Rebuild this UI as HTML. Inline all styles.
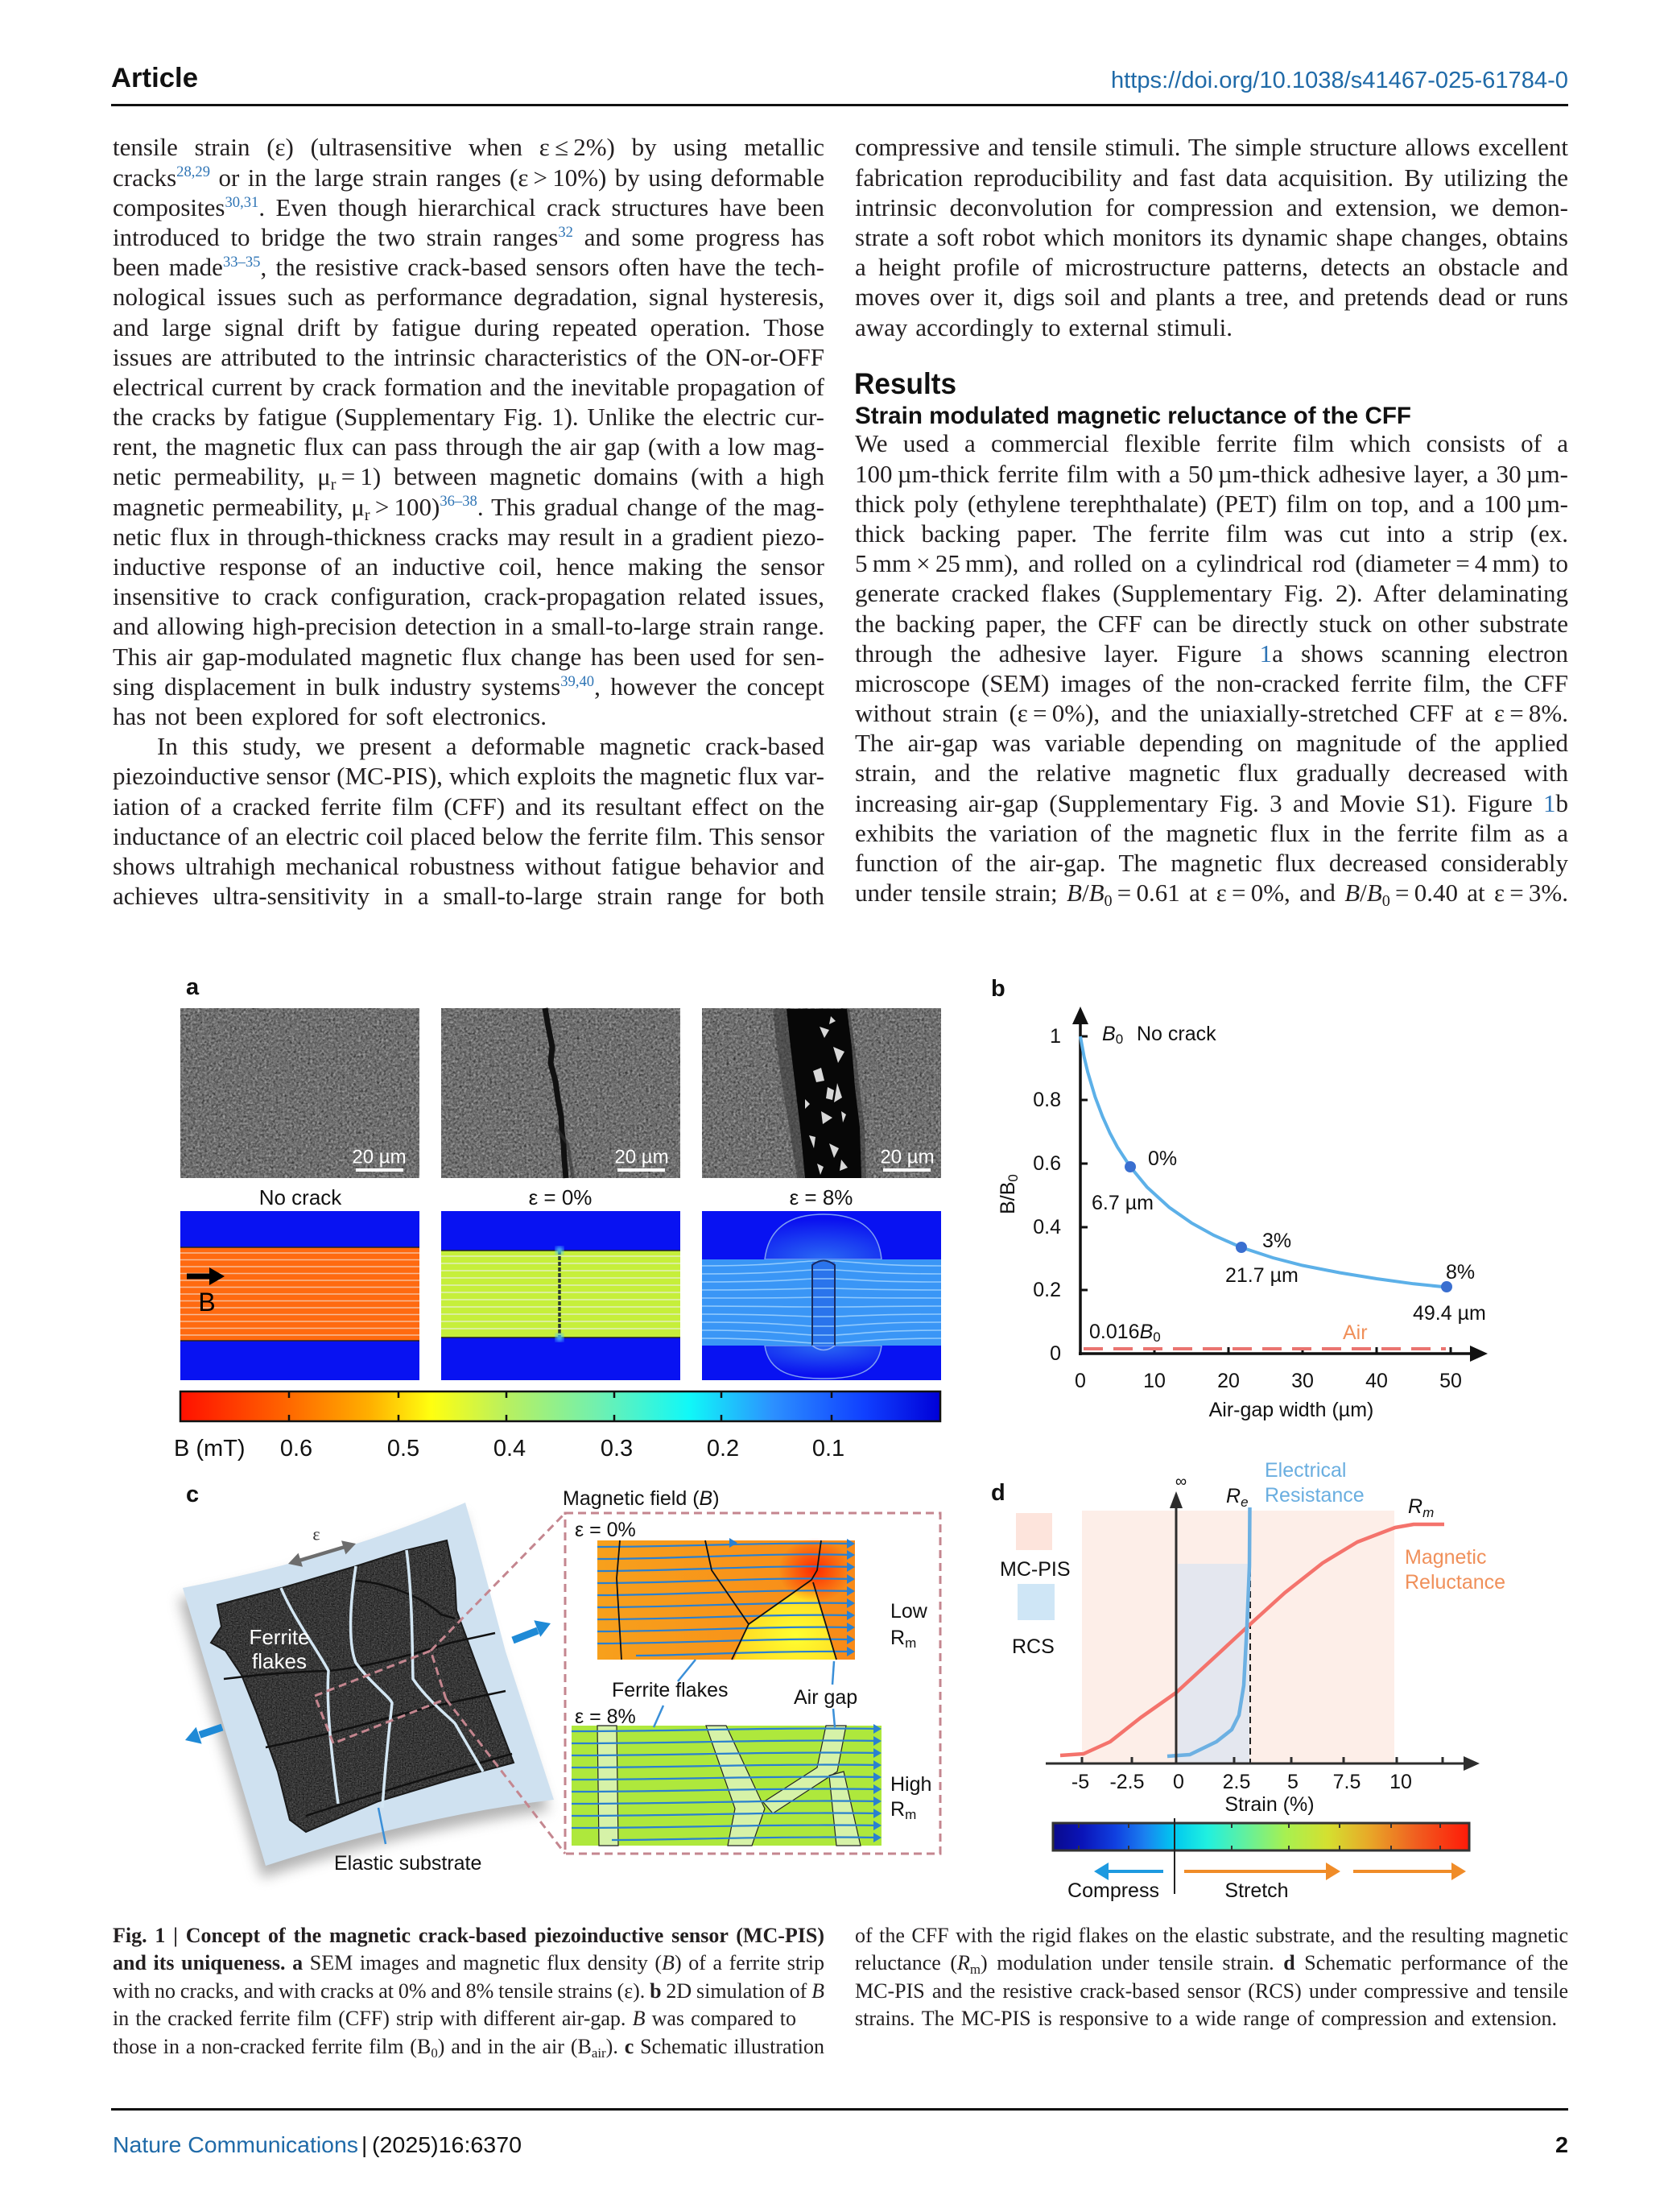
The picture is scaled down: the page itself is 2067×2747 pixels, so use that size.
<!DOCTYPE html>
<html><head><meta charset="utf-8">
<style>
html,body{margin:0;padding:0;background:#fff}
#p{position:relative;width:2067px;height:2747px;overflow:hidden;background:#fff;font-family:"Liberation Serif",serif;color:#231f20}
.col{position:absolute}
.l{height:37.2px;line-height:37.2px;white-space:nowrap;font-size:31px}
.c{height:34.6px;line-height:34.6px;white-space:nowrap;font-size:26px}
.t{white-space:nowrap}
sup{font-size:60%;line-height:0;vertical-align:0;position:relative;top:-0.6em;color:#2e74b5}
sub{font-size:65%;line-height:0;vertical-align:0;position:relative;top:0.3em}
.bl{color:#2e74b5}
.fw{position:absolute;white-space:nowrap;font-family:"Liberation Sans",sans-serif}
.rule{position:absolute;background:#111}
svg text{font-family:"Liberation Sans",sans-serif}
</style></head>
<body><div id="p">

<!-- header -->
<div class="fw" style="left:138px;top:77px;width:108px;height:40px;line-height:40px;font-size:34px;font-weight:bold;color:#111"><span class="t">Article</span></div>
<div class="fw" style="left:1380px;top:82px;width:568px;height:36px;line-height:36px;font-size:29px;color:#1f6aa8"><span class="t">https://doi.org/10.1038/s41467-025-61784-0</span></div>
<div class="rule" style="left:138px;top:129px;width:1810px;height:3px"></div>

<!-- left column -->
<div class="col" style="left:140px;top:164.4px;width:884px">
<div class="l j"><span class="t">tensile strain (ε) (ultrasensitive when ε&#8201;≤&#8201;2%) by using metallic</span></div>
<div class="l j"><span class="t">cracks<sup>28,29</sup> or in the large strain ranges (ε&#8201;&gt;&#8201;10%) by using deformable</span></div>
<div class="l j"><span class="t">composites<sup>30,31</sup>. Even though hierarchical crack structures have been</span></div>
<div class="l j"><span class="t">introduced to bridge the two strain ranges<sup>32</sup> and some progress has</span></div>
<div class="l j"><span class="t">been made<sup>33–35</sup>, the resistive crack-based sensors often have the tech-</span></div>
<div class="l j"><span class="t">nological issues such as performance degradation, signal hysteresis,</span></div>
<div class="l j"><span class="t">and large signal drift by fatigue during repeated operation. Those</span></div>
<div class="l j"><span class="t">issues are attributed to the intrinsic characteristics of the ON-or-OFF</span></div>
<div class="l j"><span class="t">electrical current by crack formation and the inevitable propagation of</span></div>
<div class="l j"><span class="t">the cracks by fatigue (Supplementary Fig. 1). Unlike the electric cur-</span></div>
<div class="l j"><span class="t">rent, the magnetic flux can pass through the air gap (with a low mag-</span></div>
<div class="l j"><span class="t">netic permeability, μ<sub>r</sub>&#8201;=&#8201;1) between magnetic domains (with a high</span></div>
<div class="l j"><span class="t">magnetic permeability, μ<sub>r</sub>&#8201;&gt;&#8201;100)<sup>36–38</sup>. This gradual change of the mag-</span></div>
<div class="l j"><span class="t">netic flux in through-thickness cracks may result in a gradient piezo-</span></div>
<div class="l j"><span class="t">inductive response of an inductive coil, hence making the sensor</span></div>
<div class="l j"><span class="t">insensitive to crack configuration, crack-propagation related issues,</span></div>
<div class="l j"><span class="t">and allowing high-precision detection in a small-to-large strain range.</span></div>
<div class="l j"><span class="t">This air gap-modulated magnetic flux change has been used for sen-</span></div>
<div class="l j"><span class="t">sing displacement in bulk industry systems<sup>39,40</sup>, however the concept</span></div>
<div class="l j" style="width:539px"><span class="t">has not been explored for soft electronics.</span></div>
<div class="l j" style="padding-left:55px;width:829px"><span class="t">In this study, we present a deformable magnetic crack-based</span></div>
<div class="l j"><span class="t">piezoinductive sensor (MC-PIS), which exploits the magnetic flux var-</span></div>
<div class="l j"><span class="t">iation of a cracked ferrite film (CFF) and its resultant effect on the</span></div>
<div class="l j"><span class="t">inductance of an electric coil placed below the ferrite film. This sensor</span></div>
<div class="l j"><span class="t">shows ultrahigh mechanical robustness without fatigue behavior and</span></div>
<div class="l j"><span class="t">achieves ultra-sensitivity in a small-to-large strain range for both</span></div>
</div>

<!-- right column top -->
<div class="col" style="left:1062px;top:164.4px;width:886px">
<div class="l j"><span class="t">compressive and tensile stimuli. The simple structure allows excellent</span></div>
<div class="l j"><span class="t">fabrication reproducibility and fast data acquisition. By utilizing the</span></div>
<div class="l j"><span class="t">intrinsic deconvolution for compression and extension, we demon-</span></div>
<div class="l j"><span class="t">strate a soft robot which monitors its dynamic shape changes, obtains</span></div>
<div class="l j"><span class="t">a height profile of microstructure patterns, detects an obstacle and</span></div>
<div class="l j"><span class="t">moves over it, digs soil and plants a tree, and pretends dead or runs</span></div>
<div class="l j" style="width:469px"><span class="t">away accordingly to external stimuli.</span></div>
</div>

<div class="fw" style="left:1061px;top:456px;width:127px;height:42px;line-height:42px;font-size:37px;font-weight:bold;color:#111"><span class="t">Results</span></div>
<div class="fw" style="left:1062px;top:499px;width:691px;height:36px;line-height:36px;font-size:30px;font-weight:bold;color:#111"><span class="t">Strain modulated magnetic reluctance of the CFF</span></div>

<div class="col" style="left:1062px;top:532.4px;width:886px">
<div class="l j"><span class="t">We used a commercial flexible ferrite film which consists of a</span></div>
<div class="l j"><span class="t">100&#8201;µm-thick ferrite film with a 50&#8201;µm-thick adhesive layer, a 30&#8201;µm-</span></div>
<div class="l j"><span class="t">thick poly (ethylene terephthalate) (PET) film on top, and a 100&#8201;µm-</span></div>
<div class="l j"><span class="t">thick backing paper. The ferrite film was cut into a strip (ex.</span></div>
<div class="l j"><span class="t">5&#8201;mm&#8201;×&#8201;25&#8201;mm), and rolled on a cylindrical rod (diameter&#8201;=&#8201;4&#8201;mm) to</span></div>
<div class="l j"><span class="t">generate cracked flakes (Supplementary Fig. 2). After delaminating</span></div>
<div class="l j"><span class="t">the backing paper, the CFF can be directly stuck on other substrate</span></div>
<div class="l j"><span class="t">through the adhesive layer. Figure <span class="bl">1</span>a shows scanning electron</span></div>
<div class="l j"><span class="t">microscope (SEM) images of the non-cracked ferrite film, the CFF</span></div>
<div class="l j"><span class="t">without strain (ε&#8201;=&#8201;0%), and the uniaxially-stretched CFF at ε&#8201;=&#8201;8%.</span></div>
<div class="l j"><span class="t">The air-gap was variable depending on magnitude of the applied</span></div>
<div class="l j"><span class="t">strain, and the relative magnetic flux gradually decreased with</span></div>
<div class="l j"><span class="t">increasing air-gap (Supplementary Fig. 3 and Movie S1). Figure <span class="bl">1</span>b</span></div>
<div class="l j"><span class="t">exhibits the variation of the magnetic flux in the ferrite film as a</span></div>
<div class="l j"><span class="t">function of the air-gap. The magnetic flux decreased considerably</span></div>
<div class="l j"><span class="t">under tensile strain; <i>B</i>/<i>B</i><sub>0</sub>&#8201;=&#8201;0.61 at ε&#8201;=&#8201;0%, and <i>B</i>/<i>B</i><sub>0</sub>&#8201;=&#8201;0.40 at ε&#8201;=&#8201;3%.</span></div>
</div>

<!-- FIGURE -->
<svg width="2067" height="2747" viewBox="0 0 2067 2747" style="position:absolute;left:0;top:0">
<defs>
 <filter id="sem" x="0" y="0" width="100%" height="100%" color-interpolation-filters="sRGB">
  <feTurbulence type="fractalNoise" baseFrequency="0.35" numOctaves="3" seed="7"/>
  <feColorMatrix type="matrix" values="0.33 0.33 0.33 0 0 0.33 0.33 0.33 0 0 0.33 0.33 0.33 0 0 0 0 0 0 1"/>
  <feComponentTransfer><feFuncR type="linear" slope="1.0" intercept="-0.06"/><feFuncG type="linear" slope="1.0" intercept="-0.06"/><feFuncB type="linear" slope="1.0" intercept="-0.06"/></feComponentTransfer>
 </filter>
 <filter id="fer" x="0" y="0" width="100%" height="100%" color-interpolation-filters="sRGB">
  <feTurbulence type="fractalNoise" baseFrequency="0.6" numOctaves="2" seed="3"/>
  <feColorMatrix type="matrix" values="0.33 0.33 0.33 0 0 0.33 0.33 0.33 0 0 0.33 0.33 0.33 0 0 0 0 0 0 1"/>
  <feComponentTransfer><feFuncR type="linear" slope="0.7" intercept="-0.13"/><feFuncG type="linear" slope="0.7" intercept="-0.13"/><feFuncB type="linear" slope="0.7" intercept="-0.13"/></feComponentTransfer>
 </filter>
 <filter id="blur8"><feGaussianBlur stdDeviation="8"/></filter>
 <filter id="blur3"><feGaussianBlur stdDeviation="3"/></filter>
 <linearGradient id="cbA" x1="0" x2="1" y1="0" y2="0">
  <stop offset="0" stop-color="#ff1000"/><stop offset="0.14" stop-color="#ff6600"/><stop offset="0.25" stop-color="#ffb000"/>
  <stop offset="0.33" stop-color="#ffff10"/><stop offset="0.43" stop-color="#b8f060"/><stop offset="0.55" stop-color="#70f0b0"/>
  <stop offset="0.67" stop-color="#10f8f8"/><stop offset="0.78" stop-color="#2c90ff"/><stop offset="0.9" stop-color="#1040ff"/><stop offset="1" stop-color="#0000d8"/>
 </linearGradient>
 <linearGradient id="cbD" x1="0" x2="1" y1="0" y2="0">
  <stop offset="0" stop-color="#0a0a8c"/><stop offset="0.07" stop-color="#0a14b8"/><stop offset="0.15" stop-color="#1040e0"/>
  <stop offset="0.22" stop-color="#1a80f0"/><stop offset="0.29" stop-color="#00c8f0"/><stop offset="0.37" stop-color="#20f0e0"/>
  <stop offset="0.46" stop-color="#60f0a0"/><stop offset="0.56" stop-color="#a8f050"/><stop offset="0.66" stop-color="#d4e030"/>
  <stop offset="0.76" stop-color="#e8a828"/><stop offset="0.87" stop-color="#f06020"/><stop offset="1" stop-color="#ff1a08"/>
 </linearGradient>
 <radialGradient id="dome" cx="0.5" cy="1" r="0.9">
  <stop offset="0" stop-color="#2a6af4"/><stop offset="1" stop-color="#0a10f0"/>
 </radialGradient>
 <radialGradient id="dome2" cx="0.5" cy="0" r="0.9">
  <stop offset="0" stop-color="#2a6af4"/><stop offset="1" stop-color="#0a10f0"/>
 </radialGradient>
 <radialGradient id="hot" cx="0.5" cy="0.5" r="0.5">
  <stop offset="0" stop-color="#ff2a00"/><stop offset="1" stop-color="#ff2a00" stop-opacity="0"/>
 </radialGradient>
 <radialGradient id="yel" cx="0.6" cy="0.7" r="0.7">
  <stop offset="0" stop-color="#ffff30"/><stop offset="1" stop-color="#ffd020"/>
 </radialGradient>
 <linearGradient id="org" x1="0" x2="1" y1="0" y2="0">
  <stop offset="0" stop-color="#f7a01c"/><stop offset="1" stop-color="#f88a18"/>
 </linearGradient>
 <clipPath id="ferClip"><path d="M270,1993 L350,1972 L442,1945 L505,1925 L555,1913 L565,1960 L567,2000 L598,2084 L638,2189 L560,2210 L470,2237 L380,2275 L360,2260 L345,2200 L320,2130 L300,2080 L280,2050 L262,2040 L275,2020 Z"/></clipPath>
</defs>

<!-- ===== Panel a ===== -->
<text x="231" y="1226" font-size="29" font-weight="bold" dominant-baseline="central" fill="#111">a</text>
<rect x="224" y="1252" width="297" height="211" filter="url(#sem)"/>
<rect x="548" y="1252" width="297" height="211" filter="url(#sem)"/>
<rect x="872" y="1252" width="297" height="211" filter="url(#sem)"/>
<!-- crack 2 -->
<path d="M677,1252 L681,1275 L686,1300 L684,1320 L690,1343 L693,1365 L697,1386 L698,1405 L700,1421 L701,1440 L703,1463" stroke="#111" stroke-width="7" fill="none"/>
<path d="M690,1400 L705,1420 L712,1463" stroke="#333" stroke-width="4" fill="none" opacity="0.6"/>
<!-- crack 3 -->
<path d="M960,1253 L1055,1253 L1062,1300 L1068,1350 L1074,1400 L1076,1463 L990,1463 L982,1410 L972,1350 L965,1300 Z" fill="#3a3a3a" opacity="0.6"/>
<path d="M977,1253 L1052,1253 L1058,1300 L1062,1350 L1068,1400 L1070,1463 L1000,1463 L995,1410 L988,1350 L982,1300 Z" fill="#070707"/>
<path d="M1018,1275 l12,4 l-6,10z M1035,1300 l14,6 l-8,14z M1010,1330 l10,-4 l4,16 l-10,2z M1040,1345 l6,18 l-10,6z M1020,1380 l14,8 l-12,8z M1005,1410 l8,2 l-2,14z M1030,1420 l12,6 l-6,12z M1045,1440 l8,10 l-10,4z M1015,1445 l8,4 l-4,10z M1028,1350 l8,4 l-2,12 l-8,-2z M1045,1380 l6,4 l-4,10z M1000,1365 l6,6 l-6,6z M1032,1262 l6,6 l-8,4z" fill="#d8d8d8"/>
<!-- scale bars -->
<g fill="#fff" font-size="24" text-anchor="middle">
<text x="471" y="1437" dominant-baseline="central">20 µm</text>
<text x="797" y="1437" dominant-baseline="central">20 µm</text>
<text x="1127" y="1437" dominant-baseline="central">20 µm</text>
</g>
<rect x="442" y="1451" width="59" height="4" fill="#fff"/>
<rect x="767" y="1451" width="59" height="4" fill="#fff"/>
<rect x="1097" y="1451" width="59" height="4" fill="#fff"/>
<g font-size="26" text-anchor="middle" fill="#111">
<text x="373" y="1487" dominant-baseline="central">No crack</text>
<text x="696" y="1487" dominant-baseline="central">ε = 0%</text>
<text x="1020" y="1487" dominant-baseline="central">ε = 8%</text>
</g>
<!-- sim 1 -->
<rect x="224" y="1504" width="297" height="210" fill="#0812f2"/>
<rect x="224" y="1549" width="297" height="116" fill="#ff6a10"/>
<g stroke="#f7bc98" stroke-width="1.6">
<line x1="224" x2="521" y1="1556" y2="1556"/><line x1="224" x2="521" y1="1564.5" y2="1564.5"/><line x1="224" x2="521" y1="1573" y2="1573"/><line x1="224" x2="521" y1="1581.5" y2="1581.5"/><line x1="224" x2="521" y1="1590" y2="1590"/><line x1="224" x2="521" y1="1598.5" y2="1598.5"/><line x1="224" x2="521" y1="1607" y2="1607"/><line x1="224" x2="521" y1="1615.5" y2="1615.5"/><line x1="224" x2="521" y1="1624" y2="1624"/><line x1="224" x2="521" y1="1632.5" y2="1632.5"/><line x1="224" x2="521" y1="1641" y2="1641"/><line x1="224" x2="521" y1="1649.5" y2="1649.5"/><line x1="224" x2="521" y1="1658" y2="1658"/>
</g>
<line x1="224" x2="521" y1="1549" y2="1549" stroke="#222" stroke-width="1.5"/><line x1="224" x2="521" y1="1665" y2="1665" stroke="#222" stroke-width="1.5"/>
<line x1="232" y1="1585" x2="264" y2="1585" stroke="#000" stroke-width="7"/>
<polygon points="260,1574 279,1585 260,1596" fill="#000"/>
<text x="257" y="1617" font-size="32" text-anchor="middle" dominant-baseline="central" fill="#000">B</text>
<!-- sim 2 -->
<rect x="548" y="1504" width="297" height="210" fill="#0812f2"/>
<rect x="548" y="1553" width="297" height="108" fill="#c6ef3a"/>
<g stroke="#e2efbc" stroke-width="1.5" fill="none">
<path d="M548,1560 L845,1560"/><path d="M548,1569 L845,1569"/><path d="M548,1578 L845,1578"/><path d="M548,1587 L845,1587"/><path d="M548,1596 L845,1596"/><path d="M548,1605 L845,1605"/><path d="M548,1614 L845,1614"/><path d="M548,1623 L845,1623"/><path d="M548,1632 L845,1632"/><path d="M548,1641 L845,1641"/><path d="M548,1650 L845,1650"/>
</g>
<line x1="548" x2="845" y1="1553" y2="1553" stroke="#222" stroke-width="1.5"/><line x1="548" x2="845" y1="1661" y2="1661" stroke="#222" stroke-width="1.5"/>
<line x1="695" y1="1553" x2="695" y2="1661" stroke="#2a3a30" stroke-width="3.5" stroke-dasharray="5 2"/>
<circle cx="695" cy="1553" r="5" fill="#50c8ff" filter="url(#blur3)"/><circle cx="695" cy="1661" r="5" fill="#50c8ff" filter="url(#blur3)"/>
<!-- sim 3 -->
<rect x="872" y="1504" width="297" height="210" fill="#0812f2"/>
<path d="M950,1564 C955,1522 985,1508 1023,1508 C1061,1508 1091,1522 1095,1564 Z" fill="url(#dome)" stroke="#7f9ff2" stroke-width="1.5"/>
<path d="M950,1671 C955,1705 985,1712 1023,1712 C1061,1712 1091,1705 1095,1671 Z" fill="url(#dome2)" stroke="#7f9ff2" stroke-width="1.5"/>
<rect x="872" y="1564" width="297" height="107" fill="#3a96f6"/>
<rect x="1009" y="1566" width="28" height="105" fill="#2a74ec"/>
<g stroke="#9ed2ff" stroke-width="1.6" fill="none" opacity="0.85">
<path d="M872,1572 C950,1572 975,1568 1009,1566 L1037,1566 C1071,1568 1096,1572 1169,1572"/>
<path d="M872,1582 C950,1582 975,1579 1009,1577 L1037,1577 C1071,1579 1096,1582 1169,1582"/>
<path d="M872,1592 C950,1592 975,1590 1009,1588 L1037,1588 C1071,1590 1096,1592 1169,1592"/>
<path d="M872,1602 C950,1602 975,1601 1009,1600 L1037,1600 C1071,1601 1096,1602 1169,1602"/>
<path d="M872,1612 C950,1612 975,1612 1009,1611 L1037,1611 C1071,1612 1096,1612 1169,1612"/>
<path d="M872,1622 C950,1622 975,1623 1009,1623 L1037,1623 C1071,1623 1096,1622 1169,1622"/>
<path d="M872,1632 C950,1632 975,1634 1009,1635 L1037,1635 C1071,1634 1096,1632 1169,1632"/>
<path d="M872,1642 C950,1642 975,1645 1009,1647 L1037,1647 C1071,1645 1096,1642 1169,1642"/>
<path d="M872,1652 C950,1652 975,1656 1009,1658 L1037,1658 C1071,1656 1096,1652 1169,1652"/>
<path d="M872,1662 C950,1662 975,1666 1009,1668 L1037,1668 C1071,1666 1096,1662 1169,1662"/>
</g>
<path d="M1009,1671 L1009,1571 Q1023,1560 1037,1571 L1037,1671" stroke="#1a2a60" stroke-width="2" fill="none"/>
<path d="M1009,1671 Q1023,1682 1037,1671" stroke="#8fb0f5" stroke-width="1.5" fill="none"/>
<!-- colorbar a -->
<rect x="224" y="1728" width="944" height="37" fill="url(#cbA)" stroke="#111" stroke-width="2.5"/>
<g stroke="#111" stroke-width="2.5">
<line x1="359" x2="359" y1="1728" y2="1736"/><line x1="359" x2="359" y1="1757" y2="1765"/>
<line x1="495" x2="495" y1="1728" y2="1736"/><line x1="495" x2="495" y1="1757" y2="1765"/>
<line x1="629" x2="629" y1="1728" y2="1736"/><line x1="629" x2="629" y1="1757" y2="1765"/>
<line x1="763" x2="763" y1="1728" y2="1736"/><line x1="763" x2="763" y1="1757" y2="1765"/>
<line x1="896" x2="896" y1="1728" y2="1736"/><line x1="896" x2="896" y1="1757" y2="1765"/>
<line x1="1033" x2="1033" y1="1728" y2="1736"/><line x1="1033" x2="1033" y1="1757" y2="1765"/>
</g>
<g font-size="29" fill="#111" dominant-baseline="central">
<text x="216" y="1799" dominant-baseline="central">B (mT)</text>
<text x="368" y="1799" text-anchor="middle" dominant-baseline="central">0.6</text>
<text x="501" y="1799" text-anchor="middle" dominant-baseline="central">0.5</text>
<text x="633" y="1799" text-anchor="middle" dominant-baseline="central">0.4</text>
<text x="766" y="1799" text-anchor="middle" dominant-baseline="central">0.3</text>
<text x="898" y="1799" text-anchor="middle" dominant-baseline="central">0.2</text>
<text x="1029" y="1799" text-anchor="middle" dominant-baseline="central">0.1</text>
</g>

<!-- ===== Panel b ===== -->
<text x="1231" y="1228" font-size="29" font-weight="bold" dominant-baseline="central" fill="#111">b</text>
<g stroke="#111" stroke-width="3.5">
<line x1="1342" y1="1683" x2="1342" y2="1268"/>
<line x1="1340" y1="1681" x2="1828" y2="1681"/>
</g>
<polygon points="1342,1250 1332,1272 1352,1272" fill="#111"/>
<polygon points="1848,1681 1826,1671 1826,1691" fill="#111"/>
<g stroke="#111" stroke-width="3">
<line x1="1342" x2="1351" y1="1287" y2="1287"/><line x1="1342" x2="1351" y1="1366" y2="1366"/><line x1="1342" x2="1351" y1="1445" y2="1445"/><line x1="1342" x2="1351" y1="1524" y2="1524"/><line x1="1342" x2="1351" y1="1602" y2="1602"/>
<line x1="1434" x2="1434" y1="1681" y2="1673"/><line x1="1526" x2="1526" y1="1681" y2="1673"/><line x1="1618" x2="1618" y1="1681" y2="1673"/><line x1="1710" x2="1710" y1="1681" y2="1673"/><line x1="1802" x2="1802" y1="1681" y2="1673"/>
</g>
<line x1="1346" y1="1675" x2="1796" y2="1675" stroke="#ea7470" stroke-width="4" stroke-dasharray="24 13"/>
<polyline points="1342,1287 1346.6,1312.2 1351.2,1331.5 1360.4,1362.3 1369.6,1386.7 1378.8,1407.2 1388,1424.5 1403.6,1448.5 1424.8,1474.2 1452.4,1499.4 1480,1518.7 1507.6,1534 1541.6,1549 1581.2,1562 1618,1571.5 1664,1580.5 1710,1588 1756,1594.3 1797,1598.5" fill="none" stroke="#5cb0e8" stroke-width="4"/>
<circle cx="1404" cy="1449" r="7" fill="#3a6fd0"/>
<circle cx="1542" cy="1549" r="7" fill="#3a6fd0"/>
<circle cx="1797" cy="1598" r="7" fill="#3a6fd0"/>
<g font-size="25" fill="#111">
<text x="1318" y="1287" text-anchor="end" dominant-baseline="central">1</text>
<text x="1318" y="1366" text-anchor="end" dominant-baseline="central">0.8</text>
<text x="1318" y="1445" text-anchor="end" dominant-baseline="central">0.6</text>
<text x="1318" y="1524" text-anchor="end" dominant-baseline="central">0.4</text>
<text x="1318" y="1602" text-anchor="end" dominant-baseline="central">0.2</text>
<text x="1318" y="1681" text-anchor="end" dominant-baseline="central">0</text>
<text x="1342" y="1715" text-anchor="middle" dominant-baseline="central">0</text>
<text x="1434" y="1715" text-anchor="middle" dominant-baseline="central">10</text>
<text x="1526" y="1715" text-anchor="middle" dominant-baseline="central">20</text>
<text x="1618" y="1715" text-anchor="middle" dominant-baseline="central">30</text>
<text x="1710" y="1715" text-anchor="middle" dominant-baseline="central">40</text>
<text x="1802" y="1715" text-anchor="middle" dominant-baseline="central">50</text>
<text x="1604" y="1751" text-anchor="middle" dominant-baseline="central">Air-gap width (µm)</text>
<text transform="translate(1252,1483) rotate(-90)" text-anchor="middle" dominant-baseline="central">B/B<tspan font-size="17" dy="6">0</tspan></text>
<text x="1369" y="1284" dominant-baseline="central"><tspan font-style="italic">B</tspan><tspan font-size="17" dy="6">0</tspan></text>
<text x="1412" y="1284" dominant-baseline="central">No crack</text>
<text x="1426" y="1439" dominant-baseline="central">0%</text>
<text x="1356" y="1494" dominant-baseline="central">6.7 µm</text>
<text x="1568" y="1541" dominant-baseline="central">3%</text>
<text x="1522" y="1584" dominant-baseline="central">21.7 µm</text>
<text x="1796" y="1580" dominant-baseline="central">8%</text>
<text x="1755" y="1631" dominant-baseline="central">49.4 µm</text>
<text x="1353" y="1654" dominant-baseline="central">0.016<tspan font-style="italic">B</tspan><tspan font-size="17" dy="6">0</tspan></text>
<text x="1668" y="1655" dominant-baseline="central" fill="#f0905a">Air</text>
</g>

<!-- ===== Panel c ===== -->
<text x="231" y="1856" font-size="29" font-weight="bold" dominant-baseline="central" fill="#111">c</text>
<path d="M222,1985 Q420,1945 575,1880 L598,2000 Q640,2120 682,2248 Q500,2275 325,2332 Z" fill="#777" opacity="0.55" filter="url(#blur8)"/>
<path d="M227,1972 Q420,1935 578,1866 L592,1915 L628,2051 L688,2235 Q520,2255 330,2317 Z" fill="#cfe1f0"/>
<g clip-path="url(#ferClip)"><rect x="255" y="1905" width="390" height="390" filter="url(#fer)"/></g>
<path d="M270,1993 L350,1972 L442,1945 L505,1925 L555,1913 L565,1960 L567,2000 L598,2084 L638,2189 L560,2210 L470,2237 L380,2275 L360,2260 L345,2200 L320,2130 L300,2080 L280,2050 L262,2040 L275,2020 Z" fill="none" stroke="#1a1a1a" stroke-width="2"/>
<g stroke="#111" stroke-width="2.5" fill="none">
<path d="M278,2085 C320,2080 360,2076 408,2075 C440,2072 490,2062 560,2040 L615,2028"/>
<path d="M330,2170 C380,2160 430,2148 487,2132 C530,2120 580,2110 628,2100"/>
<path d="M442,1963 C475,1965 520,1980 548,2005 L565,2010"/>
<path d="M380,2255 C450,2232 540,2205 636,2178"/>
</g>
<g stroke="#d4e7f4" stroke-width="3.5" fill="none">
<path d="M349,1972 C365,2010 395,2050 408,2075 C405,2120 412,2180 420,2240"/>
<path d="M442,1945 C435,1990 432,2040 442,2065 C460,2090 485,2108 487,2115 C482,2160 478,2200 475,2245"/>
<path d="M505,1925 C512,1980 512,2040 513,2085 C530,2110 555,2130 565,2140 L600,2200"/>
</g>
<line x1="365" y1="1940" x2="435" y2="1919" stroke="#6d6d6d" stroke-width="4.5"/>
<polygon points="442,1917 429.4,1930.4 424,1913.2" fill="#6d6d6d"/>
<polygon points="358,1942 376,1945.8 370.6,1928.6" fill="#6d6d6d"/>
<text x="393" y="1905" font-size="22" text-anchor="middle" dominant-baseline="central" fill="#333" style="font-family:'Liberation Serif',serif">ε</text>
<line x1="637" y1="2037" x2="668" y2="2025" stroke="#1f8ad6" stroke-width="9"/>
<polygon points="684,2016 671.3,2032.7 663.3,2012.3" fill="#1f8ad6"/>
<line x1="276" y1="2145" x2="248" y2="2154.5" stroke="#1f8ad6" stroke-width="9"/>
<polygon points="230,2161 250.6,2165.6 243.6,2144.8" fill="#1f8ad6"/>
<g fill="#fff" font-size="26" text-anchor="middle">
<text x="347" y="2033" dominant-baseline="central">Ferrite</text>
<text x="347" y="2063" dominant-baseline="central">flakes</text>
</g>
<line x1="470" y1="2245" x2="479" y2="2290" stroke="#3a8fd8" stroke-width="2.5"/>
<text x="415" y="2314" font-size="25" dominant-baseline="central" fill="#111">Elastic substrate</text>
<g stroke="#c4868f" stroke-width="3" stroke-dasharray="10 6" fill="none">
<polygon points="391,2106 535,2050 554,2110 414,2165"/>
<line x1="535" y1="2050" x2="702" y2="1879"/>
<line x1="554" y1="2110" x2="702" y2="2302"/>
<rect x="702" y="1879" width="466" height="423"/>
</g>
<!-- orange sim -->
<rect x="742" y="1913" width="320" height="148" fill="url(#org)"/>
<polygon points="930,2017 1008,1962 1039,2061 912,2061" fill="url(#yel)"/>
<ellipse cx="1012" cy="1950" rx="45" ry="40" fill="url(#hot)"/>
<g stroke="#2a80d0" stroke-width="2.2" fill="none">
<path d="M742,1921 C850,1921 950,1915 1060,1917"/>
<path d="M742,1936 C850,1936 950,1928 1060,1931"/>
<path d="M742,1951 C850,1951 950,1943 1060,1946"/>
<path d="M742,1966 C850,1966 950,1958 1060,1961"/>
<path d="M742,1981 C850,1981 950,1973 1060,1976"/>
<path d="M742,1996 C850,1996 950,1989 1060,1991"/>
<path d="M742,2011 C850,2011 950,2004 1060,2006"/>
<path d="M742,2026 C850,2026 950,2019 1060,2021"/>
<path d="M742,2041 C850,2041 950,2034 1060,2036"/>
<path d="M790,2056 C850,2056 950,2050 1060,2051"/>
</g>
<g fill="#2a80d0">
<polygon points="1052,1911 1062,1917 1052,1923"/><polygon points="1052,1925 1062,1931 1052,1937"/><polygon points="1052,1940 1062,1946 1052,1952"/><polygon points="1052,1955 1062,1961 1052,1967"/><polygon points="1052,1970 1062,1976 1052,1982"/><polygon points="1052,1985 1062,1991 1052,1997"/><polygon points="1052,2000 1062,2006 1052,2012"/><polygon points="1052,2015 1062,2021 1052,2027"/><polygon points="1052,2030 1062,2036 1052,2042"/><polygon points="1052,2045 1062,2051 1052,2057"/>
<polygon points="906,1910 916,1916 906,1922"/>
</g>
<g stroke="#111" stroke-width="1.8" fill="none">
<path d="M770,1913 L766,1960 L772,2061"/>
<path d="M876,1913 L884,1950 L930,2017 L909,2061"/>
<path d="M1020,1913 L1015,1950 L1008,1962 L930,2017"/>
<path d="M1010,1965 L1039,2061"/>
</g>
<!-- green sim -->
<rect x="710" y="2143" width="385" height="149" fill="#aee83c"/>
<g fill="#d6f2a8" stroke="#222" stroke-width="1.2">
<polygon points="742,2143 766,2143 768,2292 744,2292"/>
<polygon points="877,2143 902,2143 950,2246 934,2292 904,2292 913,2246"/>
<polygon points="1026,2143 1051,2143 1040,2200 960,2252 948,2238 1015,2195"/>
<polygon points="1030,2205 1048,2200 1069,2292 1039,2292"/>
</g>
<g stroke="#2a80d0" stroke-width="2.2" fill="none">
<path d="M710,2150 C850,2150 950,2145 1093,2147"/>
<path d="M710,2165 C850,2165 950,2160 1093,2162"/>
<path d="M710,2180 C850,2180 950,2175 1093,2177"/>
<path d="M710,2195 C850,2195 950,2190 1093,2192"/>
<path d="M710,2210 C850,2210 950,2205 1093,2207"/>
<path d="M710,2225 C850,2225 950,2220 1093,2222"/>
<path d="M710,2240 C850,2240 950,2235 1093,2237"/>
<path d="M710,2255 C850,2255 950,2250 1093,2252"/>
<path d="M710,2270 C850,2270 950,2265 1093,2267"/>
<path d="M760,2285 C850,2285 950,2280 1093,2282"/>
</g>
<g fill="#2a80d0">
<polygon points="1085,2141 1095,2147 1085,2153"/><polygon points="1085,2156 1095,2162 1085,2168"/><polygon points="1085,2171 1095,2177 1085,2183"/><polygon points="1085,2186 1095,2192 1085,2198"/><polygon points="1085,2201 1095,2207 1085,2213"/><polygon points="1085,2216 1095,2222 1085,2228"/><polygon points="1085,2231 1095,2237 1085,2243"/><polygon points="1085,2246 1095,2252 1085,2258"/><polygon points="1085,2261 1095,2267 1085,2273"/><polygon points="1085,2276 1095,2282 1085,2288"/>
</g>
<g stroke="#3a8fd8" stroke-width="2.5">
<line x1="864" y1="2061" x2="842" y2="2088"/>
<line x1="824" y1="2118" x2="812" y2="2145"/>
<line x1="1036" y1="2063" x2="1034" y2="2092"/>
<line x1="1035" y1="2122" x2="1037" y2="2145"/>
</g>
<g font-size="25" fill="#111">
<text x="699" y="1861" dominant-baseline="central">Magnetic field (<tspan font-style="italic">B</tspan>)</text>
<text x="714" y="1900" dominant-baseline="central">ε = 0%</text>
<text x="714" y="2132" dominant-baseline="central">ε = 8%</text>
<text x="760" y="2099" dominant-baseline="central">Ferrite flakes</text>
<text x="986" y="2108" dominant-baseline="central">Air gap</text>
<text x="1106" y="2001" dominant-baseline="central">Low</text>
<text x="1106" y="2034" dominant-baseline="central">R<tspan font-size="17" dy="6">m</tspan></text>
<text x="1106" y="2216" dominant-baseline="central">High</text>
<text x="1106" y="2247" dominant-baseline="central">R<tspan font-size="17" dy="6">m</tspan></text>
</g>

<!-- ===== Panel d ===== -->
<text x="1231" y="1854" font-size="29" font-weight="bold" dominant-baseline="central" fill="#111">d</text>
<rect x="1344" y="1876" width="388" height="314" fill="#fdeee8"/>
<rect x="1463" y="1942" width="89" height="248" fill="#e4e7ef"/>
<rect x="1262" y="1879" width="45" height="46" fill="#fde4dc"/>
<rect x="1264" y="1967" width="46" height="45" fill="#cfe6f6"/>
<g font-size="25" fill="#111">
<text x="1242" y="1949" dominant-baseline="central">MC-PIS</text>
<text x="1257" y="2045" dominant-baseline="central">RCS</text>
<text x="1467" y="1840" font-size="20" text-anchor="middle" dominant-baseline="central">∞</text>
<text x="1523" y="1858" font-style="italic" dominant-baseline="central">R<tspan font-size="17" dy="7">e</tspan></text>
<text x="1749" y="1871" font-style="italic" dominant-baseline="central">R<tspan font-size="17" dy="7">m</tspan></text>
<text x="1571" y="1826" fill="#6aaee0" dominant-baseline="central">Electrical</text>
<text x="1571" y="1857" fill="#6aaee0" dominant-baseline="central">Resistance</text>
<text x="1745" y="1934" fill="#f0905a" dominant-baseline="central">Magnetic</text>
<text x="1745" y="1965" fill="#f0905a" dominant-baseline="central">Reluctance</text>
<text x="1342" y="2213" text-anchor="middle" dominant-baseline="central">-5</text>
<text x="1400" y="2213" text-anchor="middle" dominant-baseline="central">-2.5</text>
<text x="1464" y="2213" text-anchor="middle" dominant-baseline="central">0</text>
<text x="1536" y="2213" text-anchor="middle" dominant-baseline="central">2.5</text>
<text x="1606" y="2213" text-anchor="middle" dominant-baseline="central">5</text>
<text x="1673" y="2213" text-anchor="middle" dominant-baseline="central">7.5</text>
<text x="1740" y="2213" text-anchor="middle" dominant-baseline="central">10</text>
<text x="1577" y="2241" text-anchor="middle" dominant-baseline="central">Strain (%)</text>
<text x="1383" y="2348" text-anchor="middle" dominant-baseline="central">Compress</text>
<text x="1561" y="2348" text-anchor="middle" dominant-baseline="central">Stretch</text>
</g>
<line x1="1553" y1="1950" x2="1553" y2="2190" stroke="#222" stroke-width="2" stroke-dasharray="8 5"/>
<polyline points="1317,2180 1346,2178 1379,2163 1417,2133 1461,2102 1511,2056 1553,2017 1596,1978 1643,1941 1686,1915 1733,1897 1756,1893 1794,1893" fill="none" stroke="#f4736c" stroke-width="4.5" stroke-linejoin="round"/>
<polyline points="1450,2181 1478,2179 1511,2163 1530,2148 1539,2130 1545,2093 1549,2019 1552,1945 1552.5,1872" fill="none" stroke="#6cb0e2" stroke-width="4.5" stroke-linejoin="round"/>
<g stroke="#2d2d2d" stroke-width="3">
<line x1="1461" y1="2191" x2="1461" y2="1870"/>
<line x1="1299" y1="2190" x2="1822" y2="2190"/>
<line x1="1344" x2="1344" y1="2190" y2="2182"/><line x1="1406" x2="1406" y1="2190" y2="2182"/><line x1="1533" x2="1533" y1="2190" y2="2182"/><line x1="1604" x2="1604" y1="2190" y2="2182"/><line x1="1669" x2="1669" y1="2190" y2="2182"/><line x1="1735" x2="1735" y1="2190" y2="2182"/><line x1="1792" x2="1792" y1="2190" y2="2182"/>
</g>
<polygon points="1461,1852 1453,1873 1469,1873" fill="#2d2d2d"/>
<polygon points="1838,2190 1818,2181 1818,2199" fill="#2d2d2d"/>
<rect x="1308" y="2264" width="517" height="34" fill="url(#cbD)" stroke="#333" stroke-width="3"/>
<g stroke="#333" stroke-width="2">
<line x1="1340" x2="1340" y1="2264" y2="2270"/><line x1="1340" x2="1340" y1="2292" y2="2298"/>
<line x1="1402" x2="1402" y1="2264" y2="2270"/><line x1="1402" x2="1402" y1="2292" y2="2298"/>
<line x1="1530" x2="1530" y1="2264" y2="2270"/><line x1="1530" x2="1530" y1="2292" y2="2298"/>
<line x1="1601" x2="1601" y1="2264" y2="2270"/><line x1="1601" x2="1601" y1="2292" y2="2298"/>
<line x1="1664" x2="1664" y1="2264" y2="2270"/><line x1="1664" x2="1664" y1="2292" y2="2298"/>
<line x1="1728" x2="1728" y1="2264" y2="2270"/><line x1="1728" x2="1728" y1="2292" y2="2298"/>
<line x1="1789" x2="1789" y1="2264" y2="2270"/><line x1="1789" x2="1789" y1="2292" y2="2298"/>
</g>
<line x1="1459" y1="2258" x2="1459" y2="2352" stroke="#222" stroke-width="2"/>
<line x1="1445" y1="2324" x2="1374" y2="2324" stroke="#1e9ae0" stroke-width="4"/>
<polygon points="1359,2324 1377,2313 1377,2335" fill="#1e9ae0"/>
<line x1="1471" y1="2324" x2="1650" y2="2324" stroke="#f08c28" stroke-width="4"/>
<polygon points="1665,2324 1647,2313 1647,2335" fill="#f08c28"/>
<line x1="1681" y1="2324" x2="1806" y2="2324" stroke="#f08c28" stroke-width="4"/>
<polygon points="1821,2324 1803,2313 1803,2335" fill="#f08c28"/>
</svg>

<!-- caption -->
<div class="col" style="left:140px;top:2386.7px;width:884px">
<div class="c j"><span class="t"><b>Fig. 1 | Concept of the magnetic crack-based piezoinductive sensor (MC-PIS)</b></span></div>
<div class="c j"><span class="t"><b>and its uniqueness. a</b> SEM images and magnetic flux density (<i>B</i>) of a ferrite strip</span></div>
<div class="c j"><span class="t">with no cracks, and with cracks at 0% and 8% tensile strains (ε). <b>b</b> 2D simulation of <i>B</i></span></div>
<div class="c j" style="width:849px"><span class="t">in the cracked ferrite film (CFF) strip with different air-gap. <i>B</i> was compared to</span></div>
<div class="c j"><span class="t">those in a non-cracked ferrite film (B<sub>0</sub>) and in the air (B<sub>air</sub>). <b>c</b> Schematic illustration</span></div>
</div>
<div class="col" style="left:1062px;top:2386.7px;width:886px">
<div class="c j"><span class="t">of the CFF with the rigid flakes on the elastic substrate, and the resulting magnetic</span></div>
<div class="c j"><span class="t">reluctance (<i>R</i><sub>m</sub>) modulation under tensile strain. <b>d</b> Schematic performance of the</span></div>
<div class="c j"><span class="t">MC-PIS and the resistive crack-based sensor (RCS) under compressive and tensile</span></div>
<div class="c j" style="width:872px"><span class="t">strains. The MC-PIS is responsive to a wide range of compression and extension.</span></div>
</div>

<!-- footer -->
<div class="rule" style="left:138px;top:2618px;width:1810px;height:3px"></div>
<div class="fw" style="left:140px;top:2647px;width:305px;height:34px;line-height:34px;font-size:28px;color:#1f6aa8"><span class="t">Nature Communications</span></div>
<div class="fw" style="left:449px;top:2647px;width:8px;height:34px;line-height:34px;font-size:28px;color:#111">|</div>
<div class="fw" style="left:462px;top:2647px;width:186px;height:34px;line-height:34px;font-size:28px;color:#111"><span class="t">(2025)16:6370</span></div>
<div class="fw" style="left:1932px;top:2647px;width:16px;height:34px;line-height:34px;font-size:28px;font-weight:bold;color:#111"><span class="t">2</span></div>

</div>
<script>
(function(){
 var js=document.querySelectorAll('.j');
 for(var i=0;i<js.length;i++){
  var el=js[i];var s=el.querySelector('.t');if(!s)continue;
  var cs=getComputedStyle(el);
  var W=el.clientWidth-(parseFloat(cs.paddingLeft)||0)-(parseFloat(cs.paddingRight)||0);
  var w=s.getBoundingClientRect().width;
  var n=(s.textContent.match(/ /g)||[]).length;
  if(n>0){
   var ws=(W-w)/n; if(ws<-3)ws=-3;
   s.style.wordSpacing=ws+'px';
  }
  var w2=s.getBoundingClientRect().width;
  if(w2>W+0.5||n===0){
   s.style.display='inline-block';s.style.transformOrigin='0 50%';
   s.style.transform='scaleX('+(W/w2)+')';
  }
 }
 var fs=document.querySelectorAll('.fw');
 for(var k=0;k<fs.length;k++){
  var e=fs[k];var t=e.querySelector('.t');if(!t)continue;
  var Wd=parseFloat(e.style.width);
  t.style.display='inline-block';
  var wd=t.getBoundingClientRect().width;
  if(wd>0){t.style.transformOrigin='0 50%';t.style.transform='scaleX('+(Wd/wd)+')';}
 }
})();
</script>
</body></html>
